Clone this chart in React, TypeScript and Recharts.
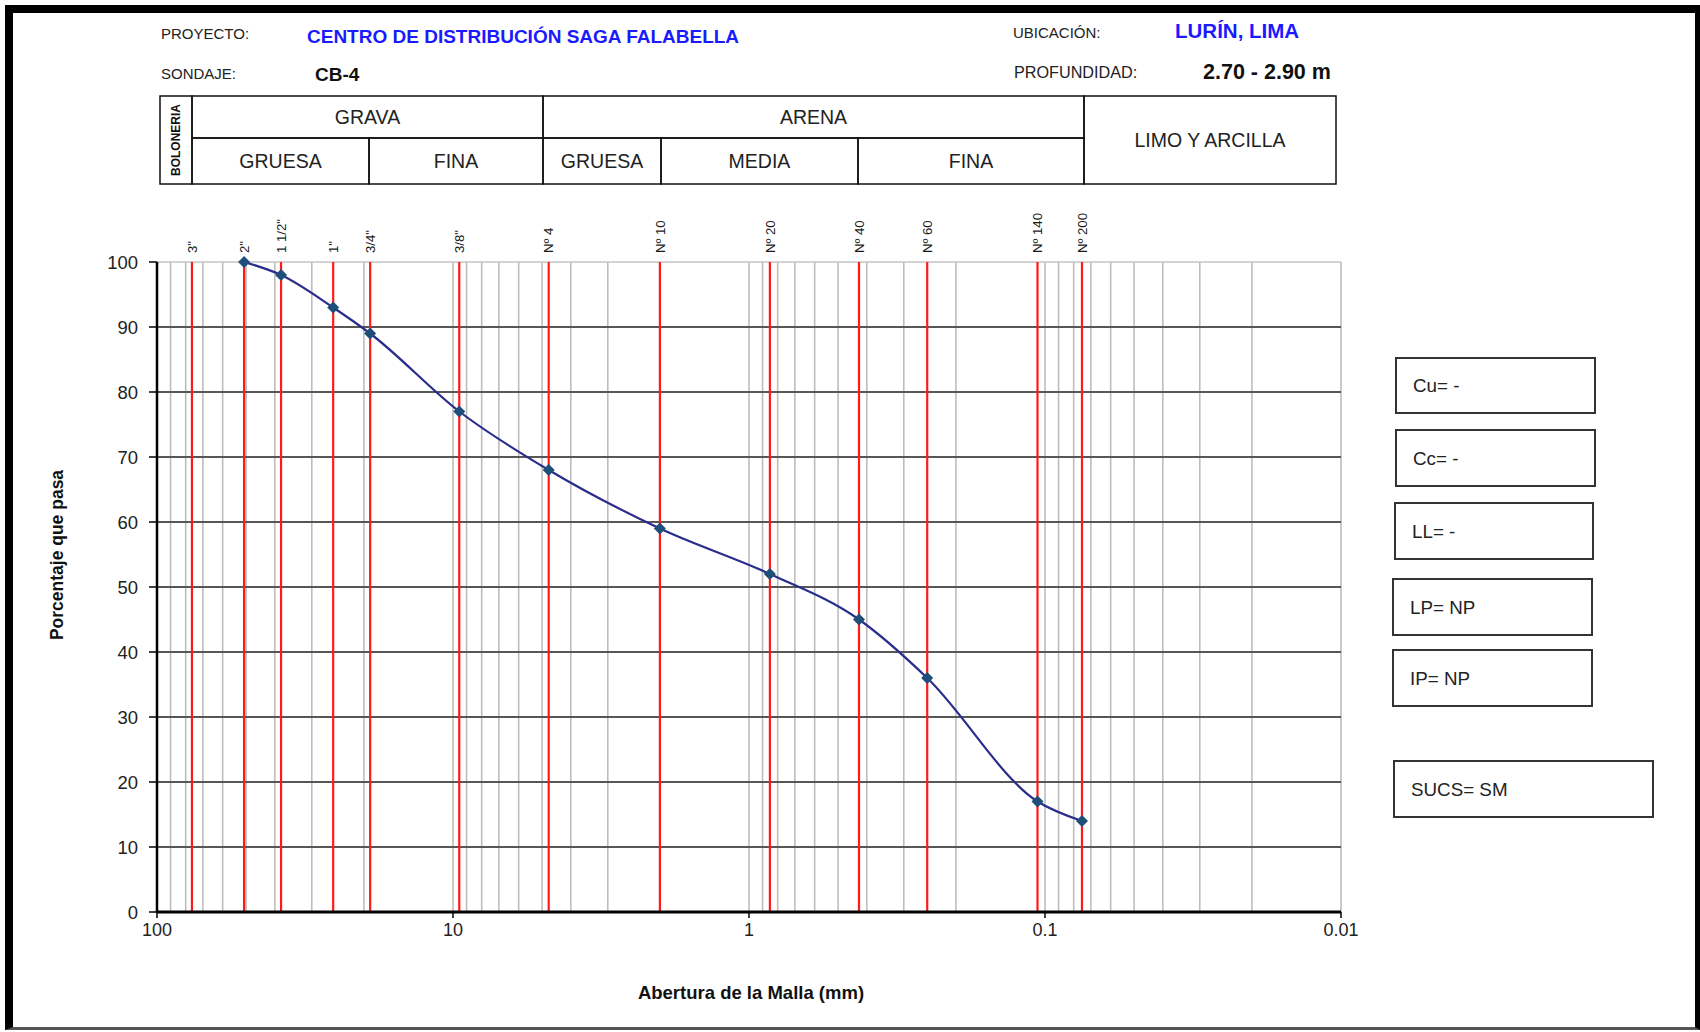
import { LineChart, Line, XAxis, YAxis, ReferenceLine } from 'recharts';

// sieve openings (mm) and their names, shown as red lines
const sieveNames = ['3"', '2"', '1 1/2"', '1"', '3/4"', '3/8"', 'Nº 4', 'Nº 10', 'Nº 20', 'Nº 40', 'Nº 60', 'Nº 140', 'Nº 200'];
const sieveOpenings = [76.2, 50.8, 38.1, 25.4, 19.05, 9.525, 4.75, 2.0, 0.85, 0.425, 0.25, 0.106, 0.075];

// grading curve
const testOpenings = [50.8, 38.1, 25.4, 19.05, 9.525, 4.75, 2.0, 0.85, 0.425, 0.25, 0.106, 0.075];
const percentPassing = [100, 98, 93, 89, 77, 68, 59, 52, 45, 36, 17, 14];

const xMajorTicks = [100, 10, 1, 0.1, 0.01];
const minorSteps = [2, 3, 4, 5, 6, 7, 8, 9];
const decadeBases = [10, 1, 0.1, 0.01];
const yTicks = [0, 10, 20, 30, 40, 50, 60, 70, 80, 90, 100];

const soilProps = ['Cu= -', 'Cc= -', 'LL= -', 'LP= NP', 'IP= NP', 'SUCS= SM'];

const data = testOpenings.map((d, i) => ({ d, p: percentPassing[i] }));
const minorGrid = decadeBases.flatMap((b) => minorSteps.map((m) => +(m * b).toPrecision(3)));

const FONT = 'Arial, "Liberation Sans", sans-serif';

const Diamond = (props: any) => {
    const { cx, cy } = props;
    if (cx == null || cy == null) return null;
    const r = 6;
    return (
        <polygon
            points={`${cx},${cy - r} ${cx + r},${cy} ${cx},${cy + r} ${cx - r},${cy}`}
            fill="#1F4E79"
        />
    );
};

// rotated sieve name drawn just above the top of its red line
const SieveLabel = (props: any) => {
    const vb = props.viewBox || {};
    const x = vb.x;
    const y = (vb.y ?? 0) - 9;
    if (x == null) return null;
    return (
        <text
            x={x}
            y={y}
            transform={`rotate(-90, ${x}, ${y})`}
            textAnchor="start"
            dy="0.35em"
            fontSize={13.2}
            fontFamily={FONT}
            fill="#1a1a1a"
        >
            {props.name}
        </text>
    );
};

// header table cells: [x1, x2, y1, y2, text]
const tableCells: [number, number, number, number, string][] = [
    [192, 543, 96, 138, 'GRAVA'],
    [543, 1084, 96, 138, 'ARENA'],
    [1084, 1336, 96, 184, 'LIMO Y ARCILLA'],
    [192, 369, 138, 184, 'GRUESA'],
    [369, 543, 138, 184, 'FINA'],
    [543, 661, 138, 184, 'GRUESA'],
    [661, 858, 138, 184, 'MEDIA'],
    [858, 1084, 138, 184, 'FINA'],
];

// property boxes: [x, y, w, h]
const boxRects = [
    [1396, 358, 199, 55],
    [1396, 430, 199, 56],
    [1395, 503, 198, 56],
    [1393, 579, 199, 56],
    [1393, 650, 199, 56],
    [1394, 761, 259, 56],
];

function Header() {
    return (
        <svg width={1700} height={1032} style={{ position: 'absolute', left: 0, top: 0, pointerEvents: 'none' }}>
            <text x={161} y={34} dy="0.35em" fontSize={15} fontFamily={FONT} fill="#222">PROYECTO:</text>
            <text x={307} y={36} dy="0.35em" fontSize={19} fontWeight="bold" fontFamily={FONT} fill="#1a1aff">CENTRO DE DISTRIBUCIÓN SAGA FALABELLA</text>
            <text x={161} y={74} dy="0.35em" fontSize={15} fontFamily={FONT} fill="#222">SONDAJE:</text>
            <text x={315} y={74} dy="0.35em" fontSize={19} fontWeight="bold" fontFamily={FONT} fill="#111">CB-4</text>
            <text x={1013} y={33} dy="0.35em" fontSize={15} fontFamily={FONT} fill="#222">UBICACIÓN:</text>
            <text x={1175} y={31} dy="0.35em" fontSize={20.5} fontWeight="bold" fontFamily={FONT} fill="#1a1aff">LURÍN, LIMA</text>
            <text x={1014} y={72} dy="0.35em" fontSize={16.2} fontFamily={FONT} fill="#222">PROFUNDIDAD:</text>
            <text x={1203} y={71} dy="0.35em" fontSize={21.5} fontWeight="bold" fontFamily={FONT} fill="#111">2.70 - 2.90 m</text>

            <rect x={160} y={96} width={32} height={88} fill="none" stroke="#111" strokeWidth={1.5} />
            <text x={176} y={140} transform="rotate(-90, 176, 140)" textAnchor="middle" dy="0.35em" fontSize={12} fontWeight="bold" fontFamily={FONT} fill="#111">BOLONERIA</text>
            {tableCells.map(([x1, x2, y1, y2, t], i) => (
                <g key={i}>
                    <rect x={x1} y={y1} width={x2 - x1} height={y2 - y1} fill="none" stroke="#111" strokeWidth={1.5} />
                    <text x={(x1 + x2) / 2} y={(y1 + y2) / 2} textAnchor="middle" dy="0.35em" fontSize={19.5} fontFamily={FONT} fill="#222">{t}</text>
                </g>
            ))}

            {boxRects.map(([x, y, w, h], i) => (
                <g key={i}>
                    <rect x={x} y={y} width={w} height={h} fill="none" stroke="#333" strokeWidth={2} />
                    <text x={x + 17} y={y + h / 2} dy="0.35em" fontSize={18.8} fontFamily={FONT} fill="#222">{soilProps[i]}</text>
                </g>
            ))}

            <text x={57} y={555} transform="rotate(-90, 57, 555)" textAnchor="middle" dy="0.35em" fontSize={17.5} fontWeight="bold" fontFamily={FONT} fill="#111">Porcentaje que pasa</text>
            <text x={751} y={993} textAnchor="middle" dy="0.35em" fontSize={18.5} fontWeight="bold" fontFamily={FONT} fill="#111">Abertura de la Malla (mm)</text>
        </svg>
    );
}

export default function App() {
    return (
        <div style={{ position: 'absolute', left: 0, top: 0, width: 1700, height: 1032, background: '#fff', overflow: 'hidden' }}>
            <LineChart
                width={1700}
                height={1032}
                data={data}
                margin={{ top: 262, right: 359, bottom: 90, left: 97 }}
            >
                <XAxis
                    xAxisId="b"
                    dataKey="d"
                    type="number"
                    scale="log"
                    domain={[0.01, 100]}
                    reversed
                    ticks={xMajorTicks}
                    interval={0}
                    height={30}
                    tickSize={6}
                    tickMargin={5}
                    axisLine={{ stroke: '#000', strokeWidth: 3 }}
                    tickLine={{ stroke: '#000', strokeWidth: 1.5 }}
                    tick={{ fontSize: 18, fill: '#222', fontFamily: FONT }}
                    allowDataOverflow
                />
                <YAxis
                    type="number"
                    domain={[0, 100]}
                    ticks={yTicks}
                    interval={0}
                    width={60}
                    tickSize={8}
                    tickMargin={11}
                    axisLine={{ stroke: '#000', strokeWidth: 2.5 }}
                    tickLine={{ stroke: '#000', strokeWidth: 1.5 }}
                    tick={{ fontSize: 18.5, fill: '#222', fontFamily: FONT }}
                />

                {minorGrid.map((v) => (
                    <ReferenceLine key={`m${v}`} xAxisId="b" x={v} stroke="#bdbdbd" strokeWidth={1.6} />
                ))}
                {xMajorTicks.map((v) => (
                    <ReferenceLine key={`M${v}`} xAxisId="b" x={v} stroke="#bdbdbd" strokeWidth={1.6} />
                ))}
                <ReferenceLine xAxisId="b" y={100} stroke="#c4c4c4" strokeWidth={1.6} />
                {yTicks.filter((t) => t > 0 && t < 100).map((t) => (
                    <ReferenceLine key={`h${t}`} xAxisId="b" y={t} stroke="#575757" strokeWidth={2} />
                ))}
                {sieveOpenings.map((v, i) => (
                    <ReferenceLine
                        key={`s${v}`}
                        xAxisId="b"
                        x={v}
                        stroke="#ff1a1a"
                        strokeWidth={2.2}
                        label={<SieveLabel name={sieveNames[i]} />}
                    />
                ))}

                <Line
                    xAxisId="b"
                    type="monotone"
                    dataKey="p"
                    stroke="#2a2d8c"
                    strokeWidth={2.2}
                    dot={<Diamond />}
                    activeDot={false}
                    isAnimationActive={false}
                />
            </LineChart>
            <Header />
            <div style={{ position: 'absolute', left: 5, top: 5, width: 1695, height: 1025, boxSizing: 'border-box', borderLeft: '8px solid #000', borderTop: '8px solid #000', borderRight: '5px solid #000', borderBottom: '3px solid #555', pointerEvents: 'none' }} />
        </div>
    );
}
